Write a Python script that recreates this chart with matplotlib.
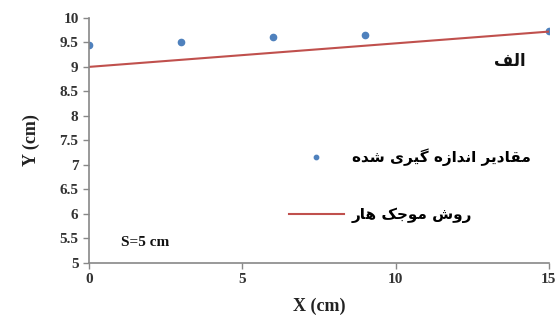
import matplotlib
matplotlib.use("Agg")
import matplotlib.pyplot as plt

# measured points
x_meas = [0, 3, 6, 9, 15]
y_meas = [9.45, 9.51, 9.61, 9.65, 9.73]

# Haar wavelet method line
x_haar = [0, 15]
y_haar = [9.0, 9.72]

x_ticks = [0, 5, 10, 15]
y_ticks = [5, 5.5, 6, 6.5, 7, 7.5, 8, 8.5, 9, 9.5, 10]

# Persian labels in visual order (presentation forms)
lbl_meas = "\uFEE9\uFEAA\uFEB7 \uFBFC\uFEAE\uFBFF\uFB94 \uFEE9\uFEAF\uFE8D\uFEAA\uFEE7\uFE8D \uFEAE\uFBFE\uFEA9\uFE8E\uFED8\uFEE3"
lbl_haar = "\uFEAD\uFE8E\uFEEB \uFB8F\uFE9F\uFEEE\uFEE3 \uFEB5\uFEED\uFEAD"
lbl_alef = "\uFED2\uFEDF\uFE8D"

serif = ["Liberation Serif", "DejaVu Serif"]
arab = ["DejaVu Sans"]

fig = plt.figure(figsize=(5.6, 3.25), dpi=100)
ax = fig.add_axes([0.159, 0.191, 0.821, 0.754])

ax.plot(x_meas, y_meas, 'o', color='#4F81BD', markersize=4.5, label=lbl_meas)
ax.plot(x_haar, y_haar, '-', color='#C0504D', linewidth=1.5, label=lbl_haar)

ax.set_xlim(0, 15)
ax.set_ylim(5, 10)
ax.set_xticks(x_ticks)
ax.set_yticks(y_ticks)
ax.set_yticklabels([f'{v:g}' for v in y_ticks])
for s in ['top', 'right']:
    ax.spines[s].set_visible(False)
for s in ['left', 'bottom']:
    ax.spines[s].set_color('#888888')
    ax.spines[s].set_linewidth(1.2)
ax.tick_params(axis='both', colors='#888888', length=4, width=1, labelcolor='#333333')
for t in ax.get_xticklabels() + ax.get_yticklabels():
    t.set_family(serif)
    t.set_fontsize(11)
    t.set_fontweight('bold')

ax.set_xlabel('X (cm)', family=serif, fontsize=13, fontweight='bold', color='#222222', labelpad=8)
ax.set_ylabel('Y (cm)', family=serif, fontsize=13, fontweight='bold', color='#222222', labelpad=14)

ax.text(1.05, 5.35, 'S=5 cm', family=serif, fontsize=11, fontweight='bold', color='#111111')
ax.text(14.25, 9.12, lbl_alef, family=arab, fontsize=12, fontweight='bold',
        ha='right', va='center', color='#111111')

leg = ax.legend(loc='center left', bbox_to_anchor=(0.405, 0.315), frameon=False,
                prop={'family': arab, 'size': 11, 'weight': 'bold'},
                handlelength=3.6, handletextpad=0.5, labelspacing=2.7, markerscale=0.7)

fig.savefig('out.png', dpi=100)
